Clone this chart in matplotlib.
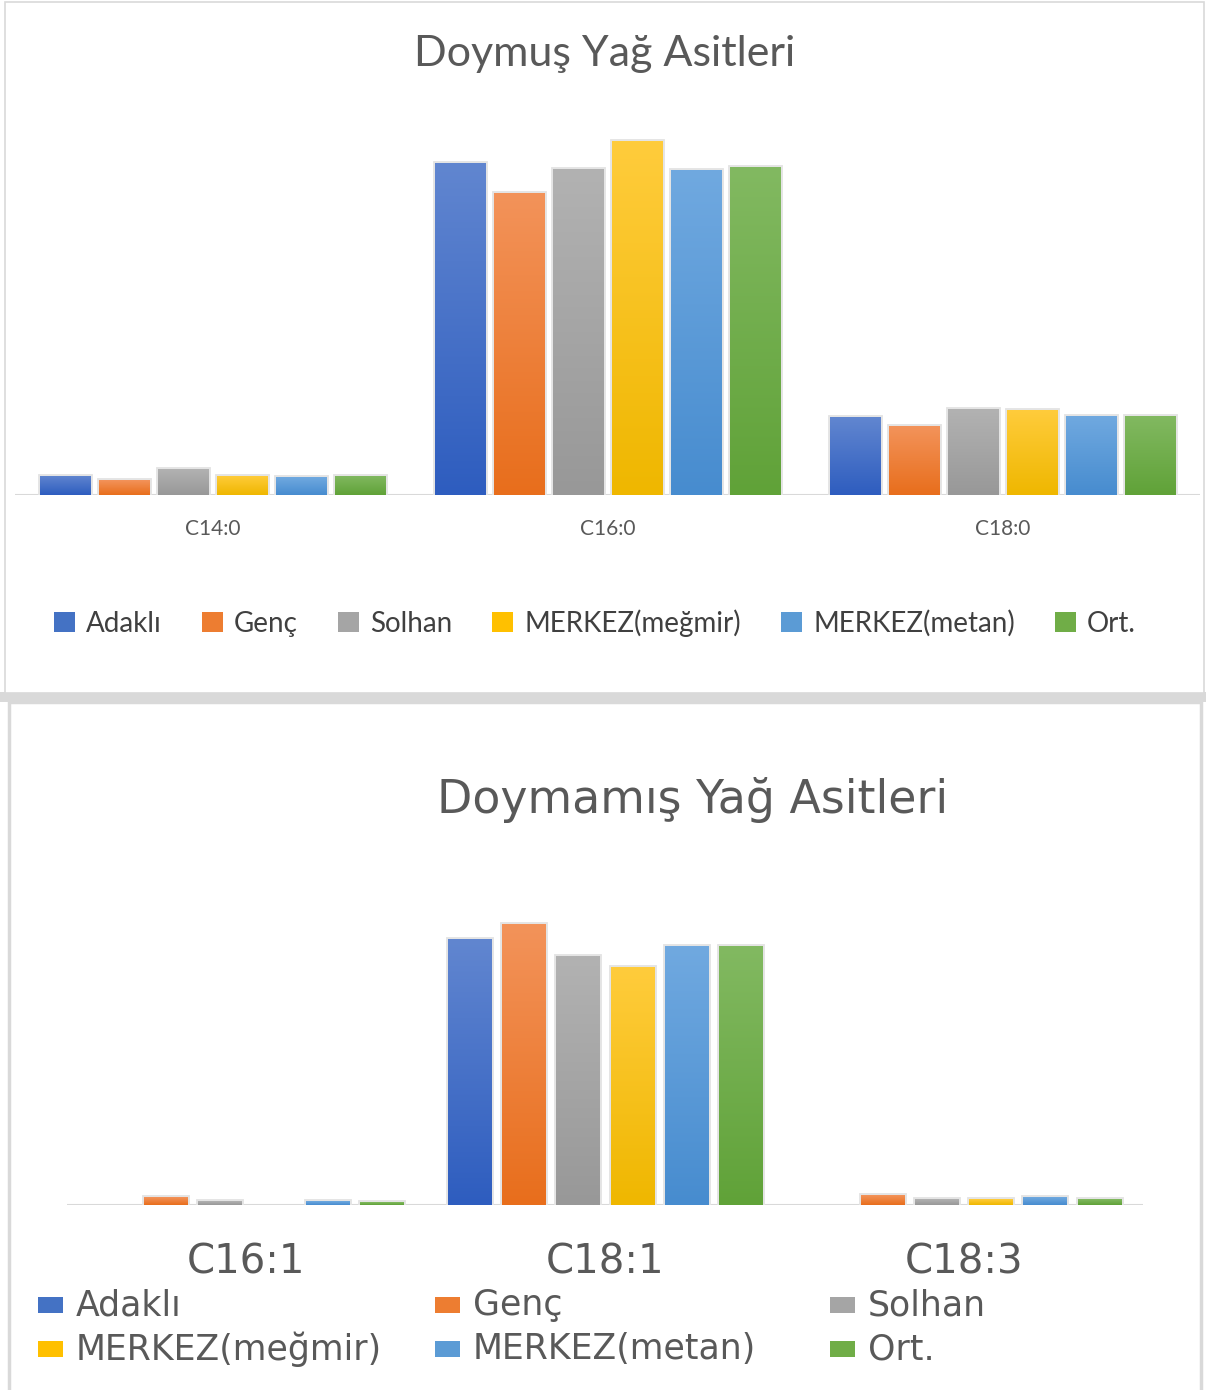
import matplotlib
matplotlib.use("Agg")
import matplotlib.pyplot as plt
import numpy as np
from matplotlib.colors import LinearSegmentedColormap
from matplotlib.patches import Rectangle

# ---------------- data ----------------
series = ["Adaklı", "Genç", "Solhan", "MERKEZ(meğmir)", "MERKEZ(metan)", "Ort."]
sat_categories = ["C14:0", "C16:0", "C18:0"]
sat_adakli = [1.6, 27.7, 6.5]
sat_genc = [1.25, 25.2, 5.75]
sat_solhan = [2.15, 27.2, 7.15]
sat_megmir = [1.6, 29.5, 7.1]
sat_metan = [1.5, 27.1, 6.6]
sat_ort = [1.6, 27.3, 6.6]

unsat_categories = ["C16:1", "C18:1", "C18:3"]
unsat_adakli = [0.0, 40.9, 0.0]
unsat_genc = [1.2, 43.2, 1.5]
unsat_solhan = [0.6, 38.3, 0.9]
unsat_megmir = [0.0, 36.6, 0.9]
unsat_metan = [0.6, 39.8, 1.2]
unsat_ort = [0.4, 39.8, 0.9]

colors_top = ["#6186D0", "#F3935A", "#B2B2B2", "#FFCC3C", "#70A9E0", "#82B961"]
colors_bot = ["#2E5DBF", "#E86E1C", "#989898", "#EFB700", "#478CCF", "#60A238"]
colors_mid = ["#4472C4", "#ED7D31", "#A5A5A5", "#FFC000", "#5B9BD5", "#70AD47"]

W, H = 1206, 1390
fig = plt.figure(figsize=(W / 100, H / 100), dpi=100)
fig.patch.set_facecolor("white")

def fx(x):
    return x / W

def fy(y):
    return 1 - y / H

# panel frames
fig.patches.append(Rectangle((fx(0), fy(702)), 1, (702 - 692) / H, transform=fig.transFigure,
                             facecolor="#D9D9D9", edgecolor="none", zorder=-3))
fig.patches.append(Rectangle((fx(5), fy(693)), (1204 - 5) / W, (693 - 2) / H, transform=fig.transFigure,
                             facecolor="white", edgecolor="#D9D9D9", lw=1.2, zorder=-2))
fig.patches.append(Rectangle((fx(9), fy(1392)), (1201 - 9) / W, (1392 - 702) / H, transform=fig.transFigure,
                             facecolor="white", edgecolor="#D9D9D9", lw=2.5, zorder=-2))

TOPFONT = ["Lato", "DejaVu Sans"]
BOTFONT = ["DejaVu Sans"]


def draw_group(ax, cats, data, slot, width, ylim):
    x = np.arange(len(cats))
    for i, vals in enumerate(data):
        pos = x + (i - 2.5) * slot
        bars = ax.bar(pos, vals, width, color=colors_mid[i], edgecolor="#E4E4E4",
                      linewidth=3.5, zorder=2, label=series[i])
        cmap = LinearSegmentedColormap.from_list("g%d" % i, [colors_bot[i], colors_top[i]])
        grad = np.linspace(0, 1, 128).reshape(-1, 1)
        for b in bars:
            h = b.get_height()
            if h <= 0:
                b.set_linewidth(0)
                continue
            x0 = b.get_x()
            im = ax.imshow(grad, extent=[x0, x0 + b.get_width(), 0, h], origin="lower",
                           aspect="auto", cmap=cmap, zorder=3)
            im.set_clip_path(b)
    ax.axhline(0, color="#D9D9D9", lw=2.2, zorder=1)
    ax.set_xlim(-0.5, len(cats) - 0.5)
    ax.set_ylim(0, ylim)
    ax.set_yticks([])
    for s in ax.spines.values():
        s.set_visible(False)
    ax.set_facecolor("none")


# ---------------- top chart ----------------
ax1 = fig.add_axes([fx(15), fy(495), (1200 - 15) / W, 400 / H])
draw_group(ax1, sat_categories,
           [sat_adakli, sat_genc, sat_solhan, sat_megmir, sat_metan, sat_ort],
           0.149, 0.127, 400 / 12)
ax1.set_xticks(np.arange(3))
ax1.set_xticklabels(sat_categories, fontsize=15, color="#595959", family=TOPFONT)
ax1.tick_params(axis="x", length=0, pad=17)

fig.text(fx(605), fy(54), "Doymuş Yağ Asitleri", ha="center", va="center",
         fontsize=31, color="#595959", family=TOPFONT)

handles = [Rectangle((0, 0), 1, 1, facecolor=c, edgecolor="none") for c in colors_mid]
fig.legend(handles, series, loc="center", bbox_to_anchor=(fx(595), fy(623)), ncol=6,
           frameon=False, prop={"family": TOPFONT, "size": 20}, labelcolor="#404040",
           handlelength=0.75, handleheight=0.75, handletextpad=0.4, columnspacing=1.45)

# ---------------- bottom chart ----------------
ax2 = fig.add_axes([fx(67), fy(1205), (1143 - 67) / W, 355 / H])
draw_group(ax2, unsat_categories,
           [unsat_adakli, unsat_genc, unsat_solhan, unsat_megmir, unsat_metan, unsat_ort],
           0.151, 0.12, 355 / 6.5)
ax2.set_xticks(np.arange(3))
ax2.set_xticklabels(unsat_categories, fontsize=29, color="#595959", family=BOTFONT)
ax2.tick_params(axis="x", length=0, pad=27)

fig.text(fx(693), fy(800), "Doymamış Yağ Asitleri", ha="center", va="center",
         fontsize=33, color="#595959", family=BOTFONT)

marker_x = [38, 435, 830]
row_y = [1305, 1349]
order = [[0, 1, 2], [3, 4, 5]]
for r, row in enumerate(order):
    for c, idx in enumerate(row):
        mx = marker_x[c]
        my = row_y[r]
        fig.patches.append(Rectangle((fx(mx), fy(my + 8)), 25 / W, 16 / H, transform=fig.transFigure,
                                     facecolor=colors_mid[idx], edgecolor="none", zorder=3))
        fig.text(fx(mx + 38), fy(my), series[idx], ha="left", va="center",
                 fontsize=25, color="#595959", family=BOTFONT)

fig.savefig("out.png", dpi=100, facecolor="white")
